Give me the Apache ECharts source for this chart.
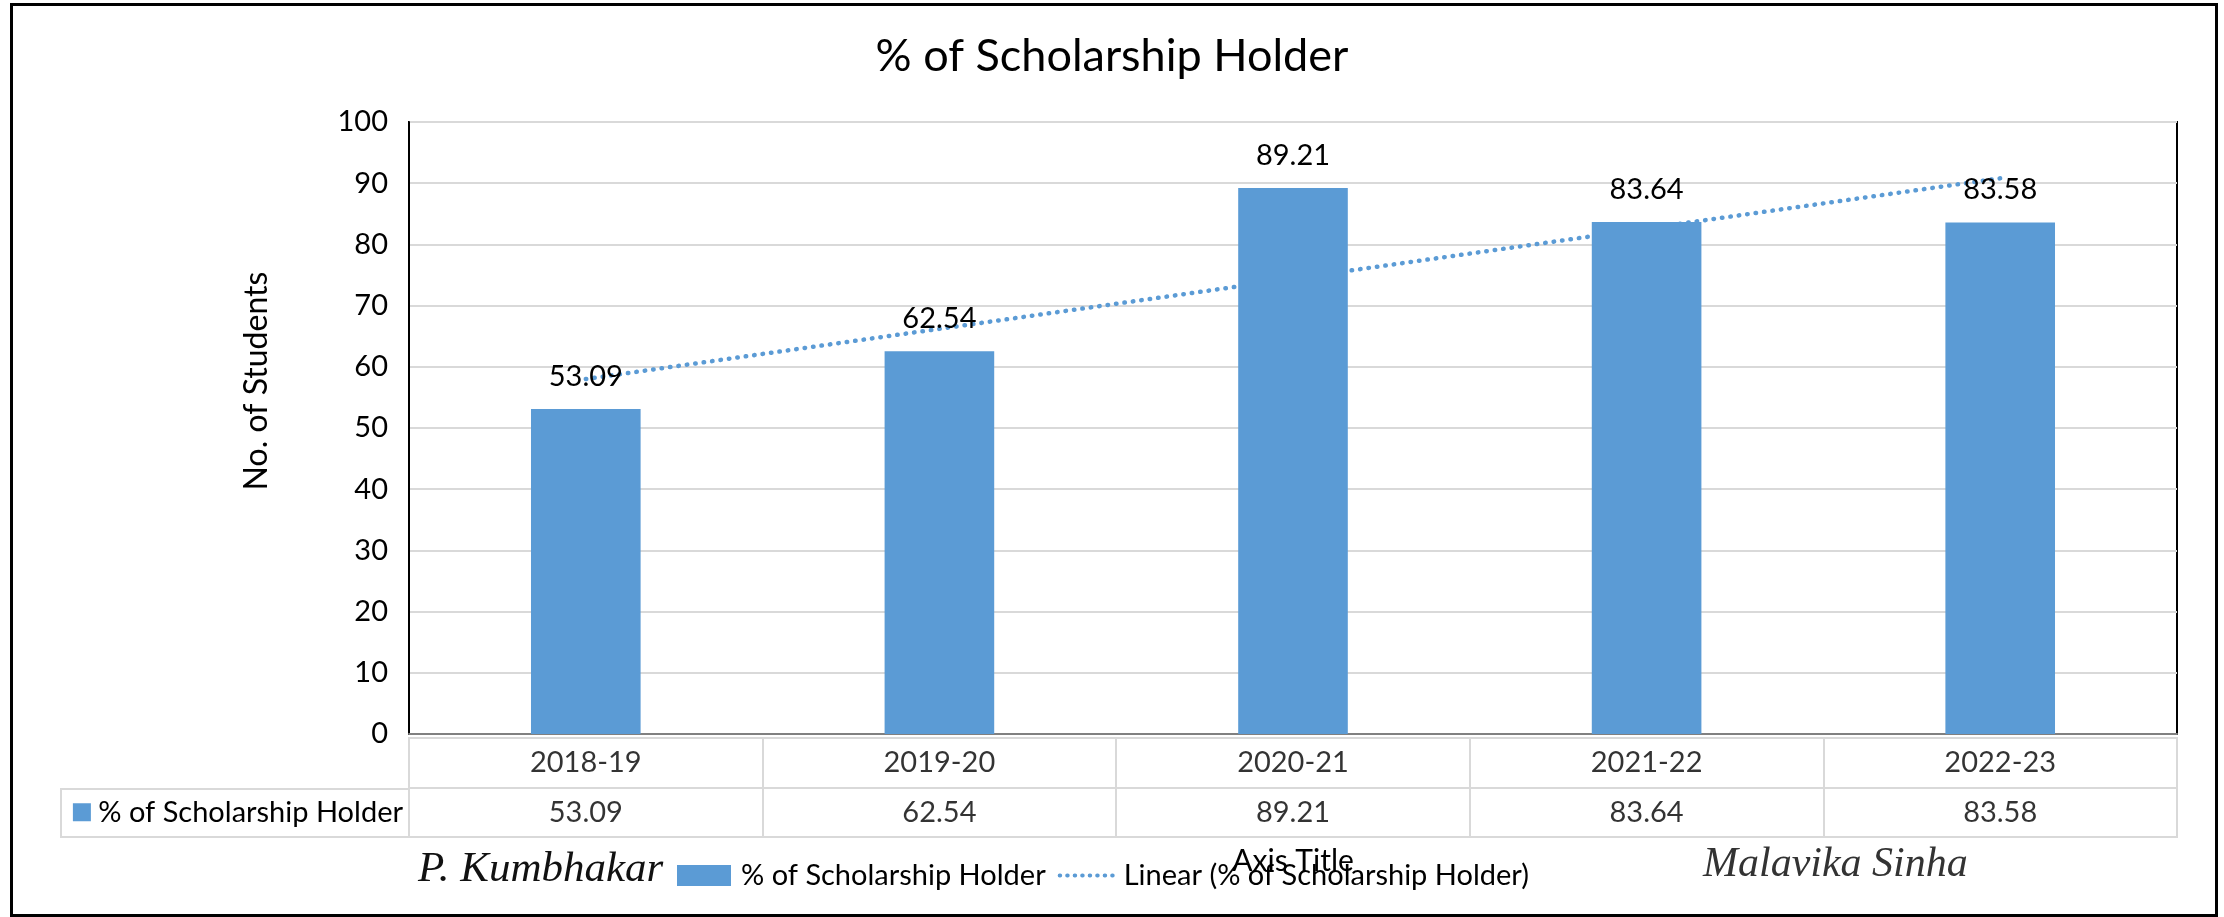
<!DOCTYPE html>
<html>
<head>
<meta charset="utf-8">
<title>% of Scholarship Holder</title>
<script src="https://cdn.jsdelivr.net/npm/echarts@6/dist/echarts.min.js"></script>
<style>
  html, body { margin: 0; padding: 0; background: #fff; }
  #chart { width: 2224px; height: 917px; }
</style>
</head>
<body>
<div id="chart"></div>
<script>
// values
const categories = ['2018-19', '2019-20', '2020-21', '2021-22', '2022-23']
const holderPct = [53.09, 62.54, 89.21, 83.64, 83.58]
// dotted linear trend line, read at the first and last year
const trendYears = ['2018-19', '2022-23']
const trendPct = [58.0, 90.8]
const yMin = 0
const yMax = 100
const yStep = 10

const seriesName = '% of Scholarship Holder'
const trendName = 'Linear (% of Scholarship Holder)'
const blue = '#5b9bd5'
const font = 'Lato'

const chart = echarts.init(document.getElementById('chart'))

chart.setOption({
  animation: false,
  textStyle: { fontFamily: font, color: '#000' },
  title: {
    text: seriesName,
    left: 'center',
    top: 29,
    textStyle: { fontFamily: font, fontSize: 45, fontWeight: 'normal', color: '#000' }
  },
  legend: {
    data: [
      { name: seriesName, icon: 'rect' },
      { name: trendName, itemStyle: { opacity: 0 }, lineStyle: { width: 4, type: [0.5, 7], cap: 'round' } }
    ],
    left: 677,
    top: 861,
    padding: 0,
    itemWidth: 54,
    itemHeight: 21,
    itemGap: 12,
    textStyle: { fontFamily: font, fontSize: 29, color: '#000', padding: [0, 0, 0, 5] }
  },
  grid: [
    { left: 409, right: 47, top: 122, height: 612, show: true, borderColor: '#000', borderWidth: 2 },
    { left: 409, right: 47, top: 738, height: 99, show: true, borderColor: '#d9d9d9', borderWidth: 2 }
  ],
  xAxis: [
    {
      type: 'category',
      gridIndex: 0,
      data: categories,
      name: 'Axis Title',
      nameLocation: 'middle',
      nameGap: 112,
      nameTextStyle: { fontFamily: font, fontSize: 30, color: '#000' },
      axisLine: { lineStyle: { color: '#808080', width: 2 } },
      axisTick: { show: false },
      axisLabel: { show: false }
    },
    {
      type: 'category',
      gridIndex: 1,
      data: categories,
      axisLine: { lineStyle: { color: '#d9d9d9', width: 2 } },
      axisTick: { show: false },
      axisLabel: { show: false },
      splitLine: { show: true, lineStyle: { color: '#d9d9d9', width: 2 } }
    }
  ],
  yAxis: [
    {
      type: 'value',
      gridIndex: 0,
      min: yMin,
      max: yMax,
      interval: yStep,
      name: 'No. of Students',
      nameLocation: 'middle',
      nameGap: 136,
      nameTextStyle: { fontFamily: font, fontSize: 32, color: '#000', padding: [0, 0, 0, 94] },
      axisLine: { show: true, lineStyle: { color: '#000', width: 2 } },
      axisTick: { show: false },
      axisLabel: { fontSize: 29, color: '#000', margin: 21 },
      splitLine: { lineStyle: { color: '#d9d9d9', width: 2 } }
    },
    {
      type: 'category',
      gridIndex: 1,
      data: ['value', 'header'],
      axisLine: { lineStyle: { color: '#d9d9d9', width: 2 } },
      axisTick: { show: false },
      splitLine: { show: true, lineStyle: { color: '#d9d9d9', width: 2 } },
      axisLabel: {
        margin: 6,
        formatter: v => v === 'value' ? '{m|}{t| ' + seriesName + '}' : '',
        rich: {
          m: { width: 18, height: 18, backgroundColor: blue },
          t: { fontFamily: font, fontSize: 29, color: '#000' }
        }
      }
    }
  ],
  series: [
    {
      name: trendName,
      type: 'line',
      xAxisIndex: 0,
      yAxisIndex: 0,
      z: 1,
      symbol: 'none',
      color: blue,
      lineStyle: { color: blue, width: 4.5, type: [0.5, 8], cap: 'round' },
      data: trendYears.map((c, i) => [c, trendPct[i]])
    },
    {
      name: seriesName,
      type: 'bar',
      xAxisIndex: 0,
      yAxisIndex: 0,
      z: 2,
      barWidth: '31%',
      itemStyle: { color: blue },
      label: { show: true, position: 'top', distance: 18, fontSize: 29, color: '#000' },
      data: holderPct
    },
    {
      name: 'table-header',
      type: 'scatter',
      xAxisIndex: 1,
      yAxisIndex: 1,
      symbolSize: 1,
      itemStyle: { color: 'rgba(0,0,0,0)' },
      label: { show: true, position: 'inside', fontSize: 29, color: '#000', formatter: p => p.value[0] },
      data: categories.map(c => [c, 'header'])
    },
    {
      name: 'table-values',
      type: 'scatter',
      xAxisIndex: 1,
      yAxisIndex: 1,
      symbolSize: 1,
      itemStyle: { color: 'rgba(0,0,0,0)' },
      label: { show: true, position: 'inside', fontSize: 29, color: '#000', formatter: p => String(p.value[2]) },
      data: holderPct.map((v, i) => [categories[i], 'value', v])
    }
  ],
  graphic: [
    // outer chart frame
    { type: 'rect', shape: { x: 11.5, y: 4.5, width: 2205, height: 911 }, style: { fill: 'none', stroke: '#000', lineWidth: 3 }, silent: true },
    // legend-key cell of the data table
    { type: 'rect', shape: { x: 61, y: 789, width: 348, height: 48 }, style: { fill: 'none', stroke: '#d9d9d9', lineWidth: 2 }, silent: true },
    // signatures
    { type: 'text', left: 418, top: 848, style: { text: 'P. Kumbhakar', fontFamily: 'Liberation Serif', fontStyle: 'italic', fontSize: 43, fill: '#111' }, silent: true },
    { type: 'text', left: 1703, top: 844, style: { text: 'Malavika Sinha', fontFamily: 'Liberation Serif', fontStyle: 'italic', fontSize: 42, fill: '#333' }, silent: true }
  ]
})

window.addEventListener('resize', () => chart.resize())
</script>
</body>
</html>
